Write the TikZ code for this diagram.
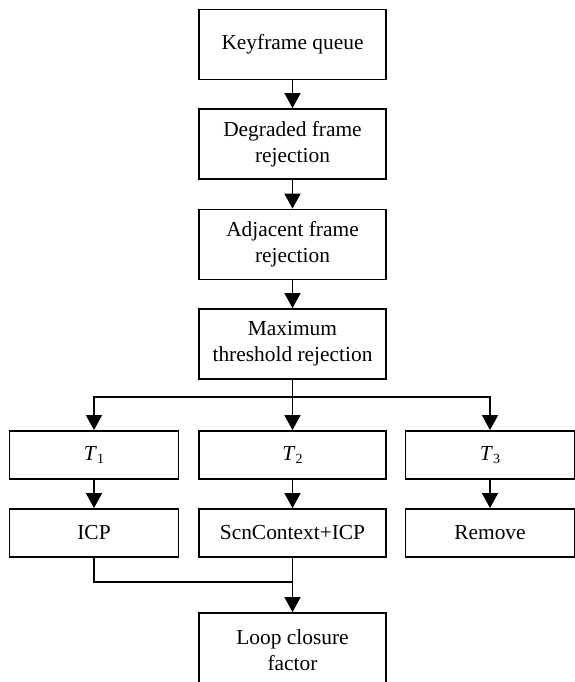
\documentclass[tikz,border=0pt]{standalone}
\usepackage{fontspec}
\setmainfont{Liberation Serif}
\usetikzlibrary{arrows.meta,positioning}
\newcommand{\Tsub}[1]{\textit{T}\raisebox{-0.35ex}{\fontsize{14}{14}\selectfont #1}}
\begin{document}
\begin{tikzpicture}[x=1pt,y=1pt,
  box/.style={draw, line width=1.8pt, align=center, inner sep=0pt,
    font=\fontsize{21.4}{26}\selectfont},
  cbox/.style={box, minimum width=187pt, minimum height=70pt},
  sbox/.style={box, minimum width=169pt, minimum height=48pt},
  mbox/.style={box, minimum width=187pt, minimum height=48pt},
  conn/.style={line width=1.6pt},
  arr/.style={conn, -{Triangle[length=15pt,width=16pt]}}]
\useasboundingbox (0,0) rectangle (575,-682);
\node[cbox] (K) at (292.5,-44.5) {Keyframe queue};
\node[cbox] (D) at (292.5,-144) {Degraded frame\\rejection};
\node[cbox] (A) at (292.5,-244.5) {Adjacent frame\\rejection};
\node[cbox] (M) at (292.5,-344) {Maximum\\threshold rejection};
\node[sbox] (T1) at (94,-455) {\Tsub{1}};
\node[mbox] (T2) at (292.5,-455) {\Tsub{2}};
\node[sbox] (T3) at (490,-455) {\Tsub{3}};
\node[sbox] (I) at (94,-533) {ICP};
\node[mbox] (S) at (292.5,-533) {ScnContext+ICP};
\node[sbox] (R) at (490,-533) {Remove};
\node[cbox, minimum height=74pt] (L) at (292.5,-650) {Loop closure\\factor};
\coordinate (split) at (292.5,-397);
\coordinate (merge) at (292.5,-582);
\draw[arr] (K) -- (D);
\draw[arr] (D) -- (A);
\draw[arr] (A) -- (M);
\draw[conn] (M) -- (split);
\draw[arr] (split) -| (T1);
\draw[arr] (split) -- (T2);
\draw[arr] (split) -| (T3);
\draw[arr] (T1) -- (I);
\draw[arr] (T2) -- (S);
\draw[arr] (T3) -- (R);
\draw[conn] (I) |- (merge);
\draw[arr] (S) -- (L);
\end{tikzpicture}
\end{document}
